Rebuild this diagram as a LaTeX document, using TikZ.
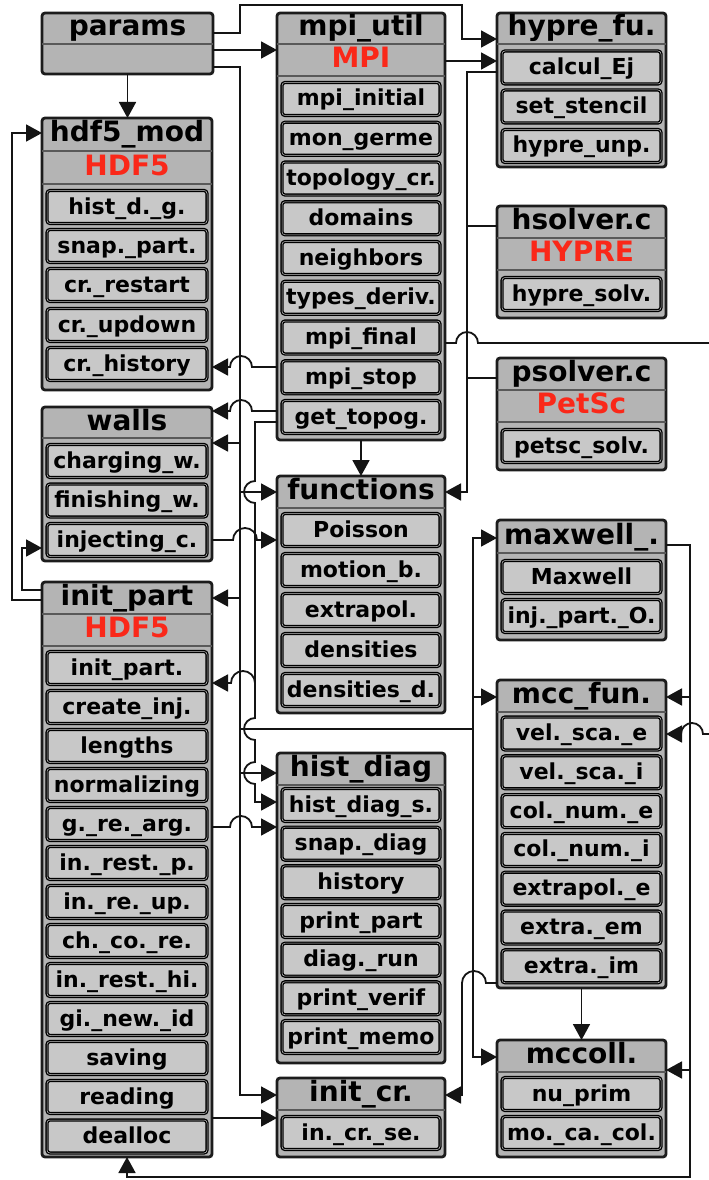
\documentclass[tikz,border=0pt]{standalone}
\usepackage{fontspec}
\setmainfont{DejaVu Sans}
\usetikzlibrary{arrows.meta}
\definecolor{boxgray}{RGB}{180,180,180}
\definecolor{itemgray}{RGB}{200,200,200}
\definecolor{libred}{RGB}{250,40,25}
\definecolor{edgec}{RGB}{28,28,28}
\newcommand\titlefont{\fontsize{28}{30}\selectfont\bfseries}
\newcommand\itemfont{\fontsize{22}{24}\selectfont\bfseries}
\tikzset{
  modbox/.style={draw=edgec, fill=boxgray, line width=2.8pt, rounded corners=3pt, inner sep=0pt, outer sep=0pt},
  sepline/.style={draw=black!65, line width=1.2pt},
  titletext/.style={inner sep=0pt, font=\titlefont, text height=20pt, text depth=5pt},
  redtext/.style={titletext, text=libred},
  itembox/.style={draw=black, double=gray!45, double distance=0.5pt, line width=1.35pt, fill=itemgray, rounded corners=3pt, minimum height=33pt, inner sep=0pt, outer sep=0pt, font=\itemfont, text height=16pt, text depth=2pt},
  conn/.style={draw=black!92, line width=1.8pt},
  arr/.style={-{Triangle[length=16pt,width=17pt]}}
}
\newcommand\modul[7]{%
  \pgfmathsetmacro\mw{#4-#2}\pgfmathsetmacro\mh{#5-#3}%
  \pgfmathsetmacro\mx{(#2+#4)/2}\pgfmathsetmacro\my{-(#3+#5)/2}%
  \pgfmathsetmacro\ty{-(#3+#6)/2}%
  \node[modbox, minimum width=\mw, minimum height=\mh] (#1) at (\mx,\my) {};
  \draw[sepline] (#2,-#6) -- (#4,-#6);
  \node[titletext] (#1t) at (\mx,\ty) {#7};
}
\newcommand\items[4]{%
  \foreach \yy/\lbl [count=\i] in {#4} {\node[itembox, minimum width=#3] (#1\i) at (#2,-\yy) {\lbl};}
}
\begin{document}
\begin{tikzpicture}[x=1pt,y=1pt]
\fill[white] (0,0) rectangle (709,-1180);
\useasboundingbox (0,0) rectangle (709,-1180);

% ---------- left column
\modul{params}{42}{13}{213}{74}{44}{params}

\modul{hdf5}{42}{118}{212}{390}{151}{hdf5\_mod}
\draw[sepline] (42,-184) -- (212,-184);
\node[redtext] (hdf5r) at (127,-167.5) {HDF5};
\items{hdf5i}{127}{160}{207/hist\_d.\_g., 246/snap.\_part., 285/cr.\_restart, 325/cr.\_updown, 364/cr.\_history}

\modul{walls}{42}{407}{212}{561}{438}{walls}
\items{wallsi}{127}{160}{461/charging\_w., 500.5/finishing\_w., 540/injecting\_c.}

\modul{initpart}{42}{582}{212}{1157}{614}{init\_part}
\draw[sepline] (42,-646) -- (212,-646);
\node[redtext] (initpartr) at (127,-630) {HDF5};
\items{initparti}{127}{160}{668/init\_part., 707/create\_inj., 746/lengths, 785/normalizing, 824/g.\_re.\_arg., 863/in.\_rest.\_p., 902/in.\_re.\_up., 941/ch.\_co.\_re., 980/in.\_rest.\_hi., 1019/gi.\_new.\_id, 1058/saving, 1097/reading, 1136.5/dealloc}

% ---------- middle column
\modul{mpi}{277}{13}{445}{440}{44}{mpi\_util}
\draw[sepline] (277,-76) -- (445,-76);
\node[redtext] (mpir) at (361,-60) {MPI};
\items{mpii}{361}{158}{99/mpi\_initial, 138.75/mon\_germe, 178.5/topology\_cr., 218.25/domains, 258/neighbors, 297.75/types\_deriv., 337.5/mpi\_final, 377.25/mpi\_stop, 417/get\_topog.}

\modul{func}{277}{476}{445}{713}{508}{functions}
\items{funci}{361}{158}{530/Poisson, 570/motion\_b., 610/extrapol., 650/densities, 690/densities\_d.}

\modul{hist}{277}{753}{445}{1063}{785}{hist\_diag}
\items{histi}{361}{158}{805/hist\_diag\_s., 843.7/snap.\_diag, 882.3/history, 921/print\_part, 959.7/diag.\_run, 998.3/print\_verif, 1037/print\_memo}

\modul{initcr}{277}{1078}{445}{1157}{1110}{init\_cr.}
\items{initcri}{361}{158}{1133/in.\_cr.\_se.}

% ---------- right column
\modul{hypre}{497}{13}{666}{167}{44}{hypre\_fu.}
\items{hyprei}{581.5}{159}{67.5/calcul\_Ej, 106.5/set\_stencil, 146/hypre\_unp.}

\modul{hsolv}{497}{206}{666}{318}{238}{hsolver.c}
\draw[sepline] (497,-270) -- (666,-270);
\node[redtext] (hsolvr) at (581.5,-254) {HYPRE};
\items{hsolvi}{581.5}{159}{294/hypre\_solv.}

\modul{psolv}{497}{358}{666}{470}{390}{psolver.c}
\draw[sepline] (497,-422) -- (666,-422);
\node[redtext] (psolvr) at (581.5,-406) {PetSc};
\items{psolvi}{581.5}{159}{446/petsc\_solv.}

\modul{maxw}{497}{520}{666}{640}{553}{maxwell\_.}
\items{maxwi}{581.5}{159}{577/Maxwell, 616/inj.\_part.\_O.}

\modul{mccf}{497}{680}{666}{988}{712}{mcc\_fun.}
\items{mccfi}{581.5}{159}{733.5/vel.\_sca.\_e, 772.3/vel.\_sca.\_i, 811.1/col.\_num.\_e, 849.9/col.\_num.\_i, 888.7/extrapol.\_e, 927.5/extra.\_em, 966.3/extra.\_im}

\modul{mccoll}{497}{1040}{666}{1157}{1072}{mccoll.}
\items{mccolli}{581.5}{159}{1094/nu\_prim, 1133/mo.\_ca.\_col.}

% ---------- connectors
% params
\draw[conn,arr] (params.south) -- (params.south |- hdf5.north);
\draw[conn,arr] (params.east |- 0,-33) -| (240,-5) -| (462,-39) -- (hypre.west |- 0,-39);
\draw[conn,arr] (params.east |- 0,-50) -- (mpi.west |- 0,-50);
\draw[conn,arr] (params.east |- 0,-67) -| (240,-1095) -- (initcr.west |- 0,-1095);
\draw[conn,arr] (240,-443) -- (walls.east |- 0,-443);
\draw[conn,arr] (240,-492) -- (func.west |- 0,-492);
\draw[conn,arr] (240,-598) -- (initpart.east |- 0,-598);
\draw[conn,arr] (240,-773) -- (hist.west |- 0,-773);
\draw[conn] (240,-729) -- (473,-729);
\draw[conn,arr] (473,-729) |- (maxw.west |- 0,-538);
\draw[conn,arr] (473,-729) |- (mccoll.west |- 0,-1057);
\draw[conn,arr] (473,-697) -- (mccf.west |- 0,-697);

% mpi_util
\draw[conn,arr] (mpi.east |- 0,-61) -- (hypre.west |- 0,-61);
\draw[conn,arr] (mpi.south) -- (mpi.south |- func.north);
\draw[conn,arr] (mpi.east |- 0,-343) -- (456,-343) arc[start angle=180,end angle=0,radius=11pt] -- (715,-343) -- (715,-734) -- (703,-734) arc[start angle=0,end angle=180,radius=11pt] -- (mccf.east |- 0,-734);
\draw[conn,arr] (mpi.west |- 0,-367) -- (252,-367) arc[start angle=0,end angle=180,radius=11pt] -- (hdf5.east |- 0,-367);
\draw[conn,arr] (mpi.west |- 0,-411) -- (252,-411) arc[start angle=0,end angle=180,radius=11pt] -- (walls.east |- 0,-411);
\draw[conn,arr] (mpi.west |- 0,-422) -| (255,-481) arc[start angle=90,end angle=270,radius=11pt] -- (255,-718) arc[start angle=90,end angle=270,radius=11pt] -- (255,-762) arc[start angle=90,end angle=270,radius=11pt] -- (255,-802) -- (hist.west |- 0,-802);
\draw[conn,arr] (255,-683) arc[start angle=0,end angle=180,radius=12pt] -- (initpart.east |- 0,-683);

% solvers into functions
\draw[conn,arr] (hypre.west |- 0,-72) -| (467,-492) -- (func.east |- 0,-492);
\draw[conn] (hsolv.west |- 0,-226) -- (467,-226);
\draw[conn] (psolv.west |- 0,-378) -- (467,-378);

% walls, init_part
\draw[conn,arr] (walls.east |- 0,-540) -- (233,-540) arc[start angle=180,end angle=0,radius=12pt] -- (func.west |- 0,-540);
\draw[conn,arr] (initpart.east |- 0,-827) -- (230,-827) arc[start angle=180,end angle=0,radius=11pt] -- (hist.west |- 0,-827);
\draw[conn,arr] (initpart.east |- 0,-1118) -- (initcr.west |- 0,-1118);
\draw[conn,arr] (initpart.west |- 0,-600) -| (12,-133) -- (hdf5.west |- 0,-133);
\draw[conn,arr] (initpart.west |- 0,-590) -| (22,-548) -- (walls.west |- 0,-548);

% maxwell, mcc
\draw[conn,arr] (maxw.east |- 0,-545) -| (690,-1177) -| (initpart.south);
\draw[conn,arr] (690,-697) -- (mccf.east |- 0,-697);
\draw[conn,arr] (690,-1070) -- (mccoll.east |- 0,-1070);
\draw[conn,arr] (mccf.south) -- (mccf.south |- mccoll.north);
\draw[conn,arr] (mccf.west |- 0,-983) -- (486,-983) arc[start angle=0,end angle=180,radius=12pt] -- (462,-1095) -- (initcr.east |- 0,-1095);
\end{tikzpicture}
\end{document}
